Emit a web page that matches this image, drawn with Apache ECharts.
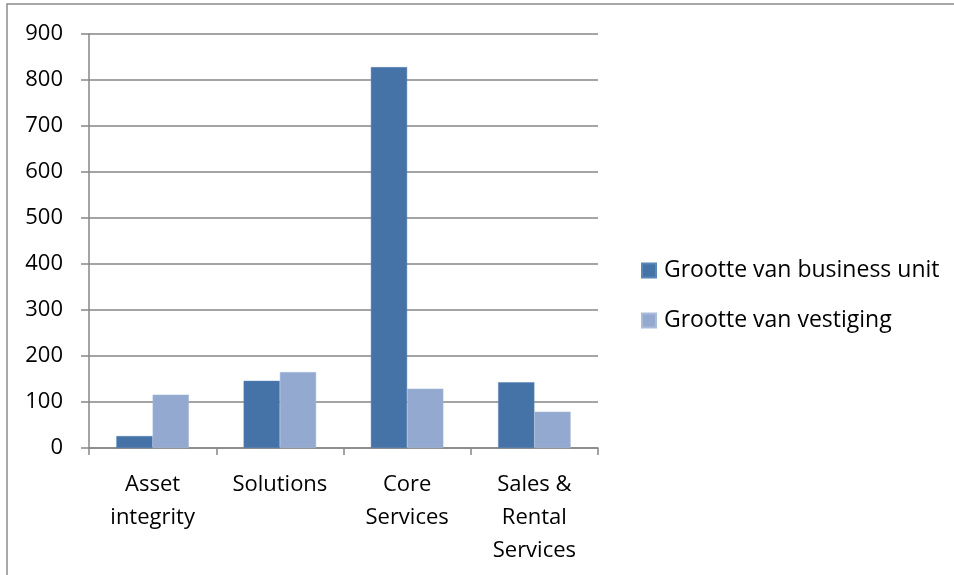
<!DOCTYPE html>
<html>
<head>
<meta charset="utf-8">
<script src="https://cdn.jsdelivr.net/npm/echarts@6/dist/echarts.min.js"></script>
<style>
  html, body { margin: 0; padding: 0; background: #fff; }
  #chart { width: 954px; height: 575px; }
</style>
</head>
<body>
<div id="chart"></div>
<script>
// Categories and values per business unit
const categories = ['Asset\nintegrity', 'Solutions', 'Core\nServices', 'Sales &\nRental\nServices'];
const businessUnitSize = [26, 146, 828, 143];
const locationSize = [116, 165, 129, 79];
const seriesNames = ['Grootte van business unit', 'Grootte van vestiging'];
const yTicks = { min: 0, max: 900, step: 100 };

const FONT = 'Open Sans';
const GRID = '#868686';

const chart = echarts.init(document.getElementById('chart'), null, { renderer: 'canvas' });

chart.setOption({
  animation: false,
  backgroundColor: '#ffffff',
  graphic: [
    {
      // outer chart frame (continues past the right and bottom edges)
      type: 'rect',
      shape: { x: 7, y: 4, width: 1000, height: 700 },
      style: { fill: 'none', stroke: '#8c8c8c', lineWidth: 1.5 },
      silent: true
    }
  ],
  grid: { left: 89, right: 356, top: 34, bottom: 127, containLabel: false },
  legend: {
    orient: 'vertical',
    left: 636,
    top: 254,
    itemWidth: 14,
    itemHeight: 14,
    itemGap: 27,
    icon: 'rect',
    textStyle: { fontFamily: FONT, fontSize: 23, color: '#000', padding: [0, 0, 0, 3] },
    data: seriesNames
  },
  xAxis: {
    type: 'category',
    data: categories,
    boundaryGap: true,
    axisLine: { show: true, lineStyle: { color: GRID, width: 1.5 } },
    axisTick: { show: true, length: 7, alignWithLabel: false, lineStyle: { color: GRID, width: 1.5 } },
    axisLabel: {
      interval: 0,
      margin: 20,
      fontFamily: FONT,
      fontSize: 22,
      lineHeight: 33,
      color: '#000'
    }
  },
  yAxis: {
    type: 'value',
    min: yTicks.min,
    max: yTicks.max,
    interval: yTicks.step,
    axisLine: { show: true, lineStyle: { color: GRID, width: 1.5 } },
    axisTick: { show: true, length: 8, lineStyle: { color: GRID, width: 1.5 } },
    splitLine: { show: true, lineStyle: { color: GRID, width: 1.5 } },
    axisLabel: { margin: 26, fontFamily: FONT, fontSize: 22, color: '#000' }
  },
  series: [
    {
      name: seriesNames[0],
      type: 'bar',
      data: businessUnitSize,
      barGap: '0%',
      barCategoryGap: '43%',
      itemStyle: { color: '#4572a7', borderColor: '#5b86b8', borderWidth: 0.5 }
    },
    {
      name: seriesNames[1],
      type: 'bar',
      data: locationSize,
      itemStyle: { color: '#94a9cf', borderColor: '#a9bcdc', borderWidth: 0.5 }
    }
  ]
});
</script>
</body>
</html>
